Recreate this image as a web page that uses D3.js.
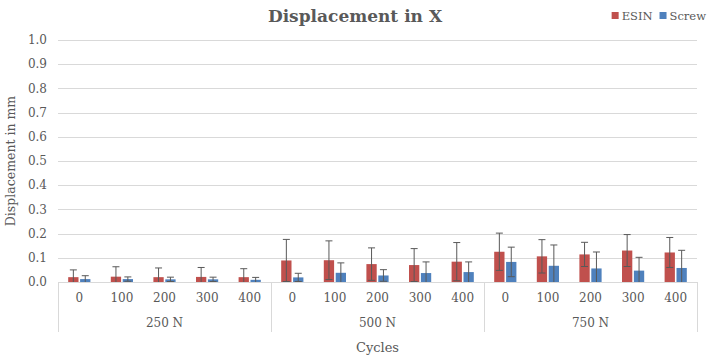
<!DOCTYPE html>
<html>
<head>
<meta charset="utf-8">
<script src="https://cdn.jsdelivr.net/npm/d3@7"></script>
<style>
  body { margin: 0; background: #fff; }
  text { font-family: "DejaVu Serif", "Liberation Serif", serif; fill: #595959; }
</style>
</head>
<body>
<svg id="chart" width="708" height="360"></svg>
<script>
// data
const groups = ['250 N', '500 N', '750 N'];
const cycles = ['0', '100', '200', '300', '400'];
const seriesNames = ['ESIN', 'Screw'];
const esinMean = [0.020, 0.022, 0.020, 0.021, 0.020,
                  0.089, 0.090, 0.074, 0.070, 0.084,
                  0.125, 0.106, 0.114, 0.130, 0.122];
const esinSd = [0.030, 0.041, 0.038, 0.039, 0.035,
                0.087, 0.080, 0.067, 0.068, 0.079,
                0.077, 0.069, 0.050, 0.066, 0.062];
const screwMean = [0.012, 0.012, 0.011, 0.011, 0.009,
                   0.019, 0.038, 0.027, 0.037, 0.041,
                   0.083, 0.067, 0.056, 0.047, 0.058];
const screwSd = [0.014, 0.009, 0.009, 0.009, 0.010,
                 0.017, 0.041, 0.024, 0.046, 0.042,
                 0.061, 0.086, 0.068, 0.055, 0.073];
const yTicks = [0, 0.1, 0.2, 0.3, 0.4, 0.5, 0.6, 0.7, 0.8, 0.9, 1.0];
const colors = ['#C0504D', '#4F81BD'];

const svg = d3.select('#chart');
const plotL = 58, plotR = 697, plotT = 40, plotB = 282;

const cats = [];
groups.forEach((g) => cycles.forEach((c) => cats.push(g + '|' + c)));

const x = d3.scaleBand().domain(cats).range([plotL, plotR]).paddingInner(0).paddingOuter(0);
const y = d3.scaleLinear().domain([0, 1]).range([plotB, plotT]);
const xGroup = d3.scaleBand().domain(groups).range([plotL, plotR]);

// gridlines
svg.append('g')
  .selectAll('line')
  .data(yTicks.slice(1))
  .enter()
  .append('line')
  .attr('x1', plotL).attr('x2', plotR)
  .attr('y1', (d) => Math.round(y(d)) + 0.5).attr('y2', (d) => Math.round(y(d)) + 0.5)
  .attr('stroke', '#D9D9D9').attr('stroke-width', 1);

// y tick labels
svg.append('g')
  .selectAll('text')
  .data(yTicks)
  .enter()
  .append('text')
  .attr('x', 47)
  .attr('y', (d) => y(d))
  .attr('dy', '0.35em')
  .attr('text-anchor', 'end')
  .style('font-size', '12px')
  .text((d) => d3.format('.1f')(d));

// bars
const barW = 10.3, gap = 1.6;
const rows = cats.map((c, i) => ({ cat: c, vals: [
  { s: 0, m: esinMean[i], sd: esinSd[i] },
  { s: 1, m: screwMean[i], sd: screwSd[i] }] }));

const catG = svg.append('g')
  .selectAll('g')
  .data(rows)
  .enter()
  .append('g')
  .attr('transform', (d) => `translate(${x(d.cat) + x.bandwidth() / 2},0)`);

catG.selectAll('rect')
  .data((d) => d.vals)
  .enter()
  .append('rect')
  .attr('x', (d) => d.s === 0 ? -barW - gap / 2 : gap / 2)
  .attr('width', barW)
  .attr('y', (d) => y(d.m))
  .attr('height', (d) => y(0) - y(d.m))
  .attr('fill', (d) => colors[d.s]);

// error bars
const err = catG.selectAll('g.err')
  .data((d) => d.vals)
  .enter()
  .append('g')
  .attr('class', 'err')
  .attr('transform', (d) => `translate(${d.s === 0 ? -barW / 2 - gap / 2 : barW / 2 + gap / 2},0)`);

err.append('line')
  .attr('x1', 0).attr('x2', 0)
  .attr('y1', (d) => y(d.m + d.sd))
  .attr('y2', (d) => y(Math.max(0, d.m - d.sd)))
  .attr('stroke', '#595959').attr('stroke-width', 1);
err.append('line')
  .attr('x1', -3.5).attr('x2', 3.5)
  .attr('y1', (d) => y(d.m + d.sd)).attr('y2', (d) => y(d.m + d.sd))
  .attr('stroke', '#595959').attr('stroke-width', 1);
err.filter((d) => d.m - d.sd >= 0)
  .append('line')
  .attr('x1', -3.5).attr('x2', 3.5)
  .attr('y1', (d) => y(d.m - d.sd)).attr('y2', (d) => y(d.m - d.sd))
  .attr('stroke', '#595959').attr('stroke-width', 1);

// category axis
svg.append('line')
  .attr('x1', plotL).attr('x2', plotR)
  .attr('y1', plotB + 0.5).attr('y2', plotB + 0.5)
  .attr('stroke', '#D9D9D9');

const seps = groups.map((g) => xGroup(g)).concat([plotR]);
svg.append('g')
  .selectAll('line')
  .data(seps)
  .enter()
  .append('line')
  .attr('x1', (d) => Math.round(d) + 0.5).attr('x2', (d) => Math.round(d) + 0.5)
  .attr('y1', plotB).attr('y2', 332)
  .attr('stroke', '#D9D9D9');

svg.append('g')
  .selectAll('text')
  .data(cats)
  .enter()
  .append('text')
  .attr('x', (d) => x(d) + x.bandwidth() / 2)
  .attr('y', 302)
  .attr('text-anchor', 'middle')
  .style('font-size', '12px')
  .text((d) => d.split('|')[1]);

svg.append('g')
  .selectAll('text')
  .data(groups)
  .enter()
  .append('text')
  .attr('x', (d) => xGroup(d) + xGroup.bandwidth() / 2)
  .attr('y', 327)
  .attr('text-anchor', 'middle')
  .style('font-size', '12px')
  .text((d) => d);

// titles
svg.append('text')
  .attr('x', 355).attr('y', 22)
  .attr('text-anchor', 'middle')
  .style('font-size', '17px').style('font-weight', 'bold')
  .text('Displacement in X');

svg.append('text')
  .attr('x', (plotL + plotR) / 2).attr('y', 352)
  .attr('text-anchor', 'middle')
  .style('font-size', '13px')
  .text('Cycles');

svg.append('text')
  .attr('transform', `translate(15,${(plotT + plotB) / 2}) rotate(-90)`)
  .attr('text-anchor', 'middle')
  .style('font-size', '12.5px')
  .text('Displacement in mm');

// legend, laid out from the right edge
const leg = svg.append('g')
  .selectAll('g')
  .data(seriesNames)
  .enter()
  .append('g');
leg.append('rect')
  .attr('x', 0).attr('y', -4).attr('width', 7).attr('height', 7)
  .attr('fill', (d, i) => colors[i]);
leg.append('text')
  .attr('x', 10).attr('y', 0).attr('dy', '0.35em')
  .style('font-size', '11.5px')
  .text((d) => d);

const widths = [];
leg.each(function() { widths.push(d3.select(this).select('text').node().getComputedTextLength() + 10); });
let cursor = 706;
const legPos = [];
for (let i = widths.length - 1; i >= 0; i--) {
  cursor -= widths[i];
  legPos[i] = cursor;
  cursor -= 7;
}
leg.attr('transform', (d, i) => `translate(${legPos[i]},16)`);
</script>
</body>
</html>
